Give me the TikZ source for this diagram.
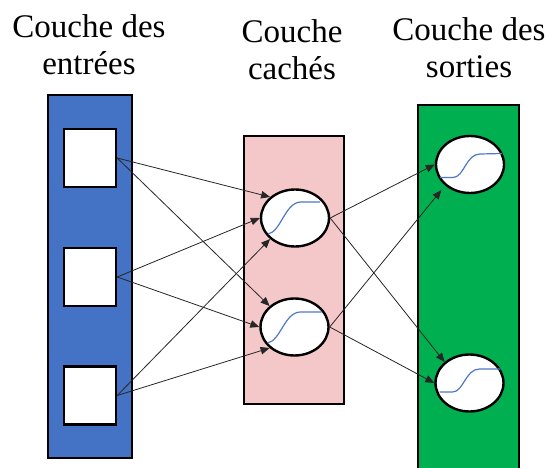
\documentclass[tikz,border=0pt]{standalone}
\usepackage{fontspec}
\setmainfont{Liberation Serif}
\usetikzlibrary{shapes.geometric,arrows.meta}
\definecolor{inblue}{RGB}{68,114,196}
\definecolor{hidpink}{RGB}{244,200,200}
\definecolor{outgreen}{RGB}{0,176,80}
\definecolor{sigblue}{RGB}{80,120,200}
\begin{document}
\begin{tikzpicture}[x=1pt,y=-1pt,
  layer/.style={draw=black,line width=2.6pt,rectangle,inner sep=0pt},
  inbox/.style={draw=black,fill=white,line width=2.4pt,rectangle,inner sep=0pt,minimum width=52pt,minimum height=58pt},
  neuron/.style={draw=black,fill=white,line width=2.4pt,ellipse,inner sep=0pt,minimum width=68pt,minimum height=57pt},
  conn/.style={draw=black!85,line width=0.8pt,-{Triangle[length=9pt,width=7.5pt]}},
  sig/.style={draw=sigblue,line width=1.2pt},
  title/.style={font=\fontsize{33}{37}\selectfont,align=center,anchor=north,inner sep=0pt}
]
\useasboundingbox (0,0) rectangle (546,468);

% titles
\node[title] (t1) at (89,14) {Couche des\\entrées};
\node[title] (t2) at (292,19) {Couche\\cachés};
\node[title] (t3) at (469,17) {Couche des\\sorties};

% layers
\node[layer,fill=inblue,minimum width=84pt,minimum height=363pt] (inl) at (90,276.5) {};
\node[layer,fill=hidpink,minimum width=100pt,minimum height=268pt] (hidl) at (294,270) {};
\node[layer,fill=outgreen,minimum width=101pt,minimum height=372pt] (outl) at (468.5,291) {};

% input boxes
\node[inbox] (i1) at (90,158) {};
\node[inbox] (i2) at (90,277) {};
\node[inbox] (i3) at (90,395.5) {};

% hidden neurons
\node[neuron] (h1) at (295,218) {};
\node[neuron] (h2) at (294.5,327) {};

% output neurons
\node[neuron] (o1) at (470,164.5) {};
\node[neuron] (o2) at (469.5,383) {};

% sigmoids
\begin{scope}[shift={(h1.center)}]
  \draw[sig] (-27,16) .. controls (-14,14) and (-10,-16) .. (6,-16) -- (25,-16);
\end{scope}
\begin{scope}[shift={(h2.center)}]
  \draw[sig] (-27,16) .. controls (-14,14) and (-10,-15) .. (6,-15) -- (27,-15);
\end{scope}
\begin{scope}[shift={(o1.center)}]
  \draw[sig] (-30,13) -- (-17,13) .. controls (-6,13) and (-4,-10.5) .. (10,-10.5) -- (32,-11);
\end{scope}
\begin{scope}[shift={(o2.center)}]
  \draw[sig] (-30,9) -- (-17,9) .. controls (-6,9) and (-4,-14) .. (10,-14) -- (31,-14);
\end{scope}

% connections input -> hidden
\draw[conn] (i1.east) -- (h1.north west);
\draw[conn] (i2.east) -- (h1.west);
\draw[conn] (i3.east) -- (h1.south west);
\draw[conn] (i1.east) -- (h2.north west);
\draw[conn] (i2.east) -- (h2.west);
\draw[conn] (i3.east) -- (h2.south west);

% connections hidden -> output
\draw[conn] (h1.east) -- (o1.west);
\draw[conn] (h1.east) -- (o2.north west);
\draw[conn,shorten >=6pt] (h2.east) -- (o1.south west);
\draw[conn] (h2.east) -- (o2.west);
\end{tikzpicture}
\end{document}
